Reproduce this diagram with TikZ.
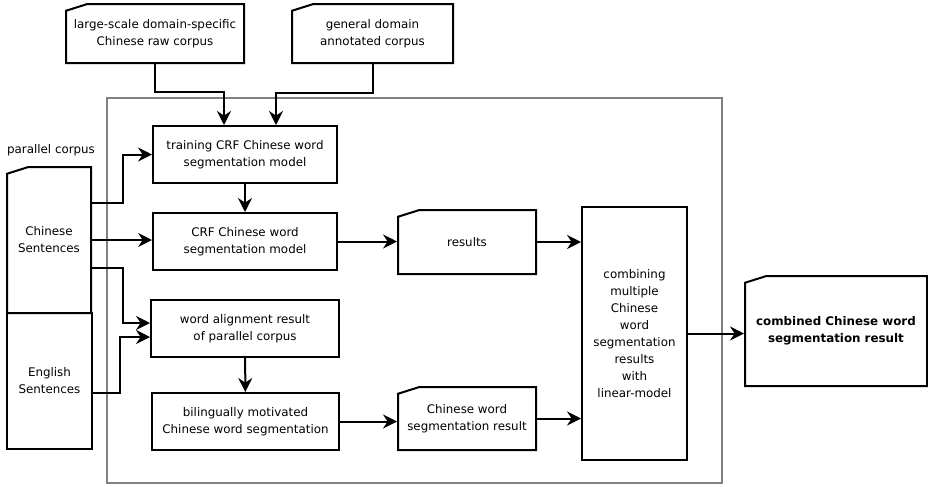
\documentclass[tikz,border=0pt]{standalone}
\usepackage{fontspec}
\setmainfont{DejaVu Sans}
\usetikzlibrary{arrows.meta,shapes.misc,calc}

\begin{document}
\begin{tikzpicture}[x=0.75pt, y=-0.75pt,
  txt/.style={font=\fontsize{8.9}{12.75}\selectfont, align=center, inner sep=0pt},
  box/.style={txt, shape=rectangle, draw=black, line width=1.5pt},
  doc/.style={box, shape=chamfered rectangle, chamfered rectangle corners=north west,
    chamfered rectangle angle=72.5, chamfered rectangle xsep=4.5pt},
  arr/.style={-{Stealth[length=10.5pt,width=10.5pt,inset=3.5pt]}, line width=1.5pt}]
\useasboundingbox (0,0) rectangle (928,486);
\node[draw=black!50, line width=0.8pt, minimum width=615*0.75pt, minimum height=385*0.75pt] (frame) at (414.5,290.5) {};
\node[doc, minimum width=178*0.75pt, minimum height=59*0.75pt] (rawcorpus) at (155,33.5) {large-scale domain-specific\\Chinese raw corpus};
\node[doc, minimum width=161*0.75pt, minimum height=59*0.75pt] (gencorpus) at (372.5,33.5) {general domain\\annotated corpus};
\node[txt] (parallel) at (51,150) {parallel corpus};
\node[doc, minimum width=84*0.75pt, minimum height=146*0.75pt] (chsent) at (49,240) {Chinese\\Sentences};
\node[box, minimum width=85*0.75pt, minimum height=136*0.75pt] (ensent) at (49.5,381) {English\\Sentences};
\node[box, minimum width=184*0.75pt, minimum height=57*0.75pt] (training) at (245,154.5) {training CRF Chinese word\\segmentation model};
\node[box, minimum width=184*0.75pt, minimum height=57*0.75pt] (crf) at (245,241.5) {CRF Chinese word\\segmentation model};
\node[box, minimum width=188*0.75pt, minimum height=57*0.75pt] (align) at (245,328.5) {word alignment result\\of parallel corpus};
\node[box, minimum width=187*0.75pt, minimum height=57*0.75pt] (biling) at (245.5,421.5) {bilingually motivated\\Chinese word segmentation};
\node[doc, minimum width=138*0.75pt, minimum height=64*0.75pt] (results) at (467,242) {results};
\node[doc, minimum width=138*0.75pt, minimum height=63*0.75pt] (cwsres) at (467,418.5) {Chinese word\\segmentation result};
\node[box, minimum width=105*0.75pt, minimum height=253*0.75pt] (combine) at (634.5,333.5) {combining\\multiple\\Chinese\\word\\segmentation\\results\\with\\linear-model};
\node[doc, font=\fontsize{8.9}{12.75}\selectfont\bfseries, minimum width=182*0.75pt, minimum height=110*0.75pt] (combined) at (836,331) {combined Chinese word\\segmentation result};
\draw[arr] (rawcorpus.south) -- ++(0,28) -| ($(training.north)+(-21,0)$);
\draw[arr] (gencorpus.south) -- ++(0,29) -| ($(training.north)+(31,0)$);
\draw[arr] (training) -- (crf);
\draw[arr] ($(chsent.east)+(0,-37)$) -- ++(31,0) |- (training.west);
\draw[arr] (chsent.east) -- (chsent.east -| crf.west);
\draw[arr] ($(chsent.east)+(0,28)$) -- ++(31,0) |- ($(align.west)+(0,-5.5)$);
\draw[arr] ($(ensent.east)+(0,12)$) -- ++(27,0) |- ($(align.west)+(0,8.5)$);
\draw[arr] (align) -- (biling);
\draw[arr] (crf.east) -- (crf.east -| results.west);
\draw[arr] (biling.east) -- (biling.east -| cwsres.west);
\draw[arr] (results.east) -- (results.east -| combine.west);
\draw[arr] (cwsres.east) -- (cwsres.east -| combine.west);
\draw[arr] (combine.east) -- (combine.east -| combined.west);
\end{tikzpicture}
\end{document}
